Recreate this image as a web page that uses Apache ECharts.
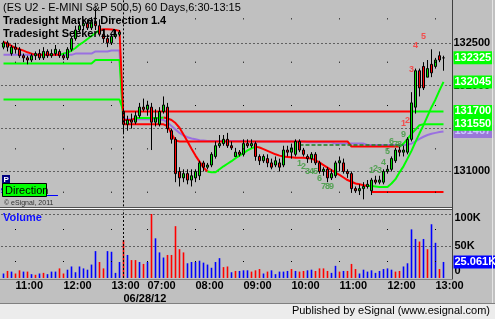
<!DOCTYPE html>
<html><head><meta charset="utf-8">
<script src="https://cdn.jsdelivr.net/npm/echarts@6/dist/echarts.min.js"></script>
<style>html,body{margin:0;padding:0;background:#c0c0c0}#c{width:495px;height:319px}</style>
</head><body><div id="c"></div>
<script>
// ---------- DATA ----------
const day1Start = [10, 45], day1Bars = 30;   // 06/27 session tail
const day2Start = [6, 30], day2Bars = 81;    // 06/28 session
const xTickIdx  = [3, 15, 27, 36, 48, 60, 72, 84, 96, 108];
const xTickText = ['11:00','12:00','13:00','07:00','08:00','09:00','10:00','11:00','12:00','13:00'];
const dateIdx = 30, dateText = '06/28/12';

// [open, close, low, high]
const day1Candles = [
 [1324.5,1325.0,1324.25,1325.25],[1325.0,1324.5,1324.0,1325.25],[1323.75,1324.5,1323.5,1324.75],[1324.5,1324.25,1323.75,1325.0],
 [1324.25,1323.5,1323.25,1324.5],[1323.5,1323.25,1322.75,1323.75],[1323.25,1323.0,1322.5,1323.5],[1323.0,1323.5,1322.75,1323.75],
 [1323.5,1323.75,1323.0,1324.0],[1323.75,1323.25,1323.0,1324.25],[1323.25,1324.0,1323.0,1324.5],[1324.0,1323.5,1323.25,1324.25],
 [1323.5,1323.75,1323.25,1324.25],[1323.75,1324.25,1323.5,1324.75],[1324.0,1323.5,1323.25,1324.25],[1323.5,1323.25,1323.0,1323.75],
 [1323.25,1324.25,1323.0,1324.5],[1324.25,1325.5,1324.0,1325.75],[1325.5,1326.5,1325.25,1327.0],[1326.5,1327.0,1326.25,1327.5],
 [1327.0,1327.25,1326.5,1327.75],[1327.25,1326.75,1326.5,1327.75],[1326.75,1327.5,1326.5,1328.0],[1327.5,1327.0,1326.5,1329.0],
 [1327.0,1326.0,1325.75,1327.75],[1326.0,1325.5,1325.0,1326.5],[1325.5,1325.0,1324.5,1326.0],[1325.0,1325.75,1324.75,1326.0],
 [1325.75,1326.0,1325.5,1326.5],[1326.0,1326.25,1325.75,1326.5]
];
const day2Candles = [
 [1317.0,1315.5,1314.5,1317.25],[1315.5,1316.0,1314.75,1316.5],[1316.0,1315.75,1315.0,1316.75],[1315.75,1316.5,1315.5,1317.0],
 [1316.5,1317.5,1316.25,1318.0],[1317.5,1317.25,1317.0,1318.5],[1317.25,1317.75,1316.5,1318.25],[1317.5,1315.75,1312.5,1318.0],
 [1315.75,1316.25,1315.25,1317.25],[1315.5,1317.0,1315.25,1317.5],[1317.0,1317.75,1316.75,1318.75],[1317.5,1315.0,1314.5,1318.0],
 [1314.75,1313.75,1313.25,1315.0],[1313.75,1309.75,1308.75,1314.0],[1310.0,1309.25,1308.25,1310.5],[1309.25,1309.75,1308.75,1310.25],
 [1309.75,1309.0,1308.5,1310.25],[1309.0,1309.5,1308.25,1310.25],[1309.25,1310.0,1308.75,1310.25],[1309.5,1311.0,1309.0,1311.25],
 [1311.0,1310.5,1310.0,1311.25],[1310.5,1310.75,1310.25,1311.0],[1310.75,1312.0,1310.5,1312.25],[1311.75,1313.0,1311.5,1313.5],
 [1313.0,1313.25,1312.75,1314.25],[1313.25,1313.75,1313.0,1314.25],[1313.75,1313.0,1312.75,1314.5],[1313.0,1312.75,1312.5,1313.5],
 [1311.75,1312.25,1311.75,1312.75],[1312.25,1312.0,1311.75,1312.5],[1312.0,1313.25,1311.75,1313.75],[1313.25,1313.0,1312.75,1313.75],
 [1313.0,1313.25,1312.75,1313.75],[1313.25,1311.75,1311.25,1313.5],[1311.75,1311.25,1310.75,1312.0],[1311.25,1311.75,1311.0,1312.0],
 [1311.5,1311.0,1310.5,1312.0],[1311.0,1310.5,1310.25,1311.5],[1310.75,1311.25,1310.5,1311.75],[1311.0,1310.5,1310.0,1311.5],
 [1310.75,1312.5,1310.5,1313.0],[1312.5,1312.25,1311.75,1313.0],[1312.25,1312.75,1311.5,1313.25],[1312.0,1313.5,1311.75,1313.75],
 [1313.5,1312.5,1312.25,1313.75],[1312.5,1312.0,1311.75,1312.75],[1311.75,1311.5,1311.0,1312.0],[1311.5,1312.0,1311.0,1312.25],
 [1312.0,1311.0,1310.75,1312.25],[1311.0,1310.0,1309.75,1311.25],[1310.0,1310.25,1309.5,1310.5],[1310.25,1309.25,1308.75,1310.5],
 [1309.25,1309.75,1309.0,1310.25],[1309.5,1311.0,1309.25,1311.25],[1311.0,1311.25,1310.0,1311.75],[1311.0,1310.0,1309.75,1311.5],
 [1310.0,1309.75,1309.25,1310.25],[1309.75,1308.0,1307.5,1310.0],[1308.0,1307.75,1307.5,1308.25],[1307.75,1308.0,1307.25,1308.5],
 [1308.0,1308.25,1306.75,1308.75],[1308.25,1308.5,1308.0,1309.0],[1307.75,1309.0,1307.25,1309.25],[1309.0,1308.75,1308.5,1309.5],
 [1308.75,1309.0,1308.5,1309.5],[1308.75,1310.0,1308.5,1310.25],[1310.0,1310.25,1309.75,1310.75],[1310.25,1311.5,1310.0,1311.75],
 [1311.25,1312.5,1311.0,1312.75],[1312.5,1312.25,1311.75,1313.0],[1312.25,1312.5,1311.75,1313.0],[1312.25,1313.75,1312.0,1314.0],
 [1313.75,1318.0,1313.5,1319.25],[1317.5,1321.75,1316.75,1322.0],[1321.75,1319.75,1318.75,1322.0],[1322.25,1319.75,1319.5,1322.75],
 [1321.0,1322.0,1321.0,1323.0],[1322.5,1321.5,1321.0,1324.25],[1322.25,1323.0,1322.0,1323.25],[1323.5,1323.0,1322.75,1324.0],
 [1323.25,1323.25,1321.75,1323.5]
];

// volume in thousands, and bar colour (b = up/blue, r = down/red)
const volume = [
 7,11,10,7,12,10,10,6,5,7, 8,6,10,10,15,7,13,18,9,18, 15,13,21,42,25,15,42,41,8,25,
 59,36,28,28,25,22,25,100,62,40, 32,36,36,81,45,40,23,25,25,27, 24,21,16,25,31,17,18,9,11,11,
 12,12,10,12,14,7,10,12,6,10, 10,11,14,11,10,11,12,13,11,15, 15,11,8,19,10,11,11,22,14,7,
 13,10,12,8,11,14,15,13,10,11, 18,23,76,61,57,61,45,84,55,14, 25.061
];
const volDir = 'brbrrbrbrb'+'rbbbrrbbbb'+'bbbbrrbbbb'+'rbrrbrbrbb'+'brrrrrbbbb'+'bbbbbrrbrb'+
               'bbrrrbrbbb'+'bbrbrrbbrr'+'rrbbrbrrrb'+'bbbbbbbbrr'+'bbbbrbrbbrb';

// indicator lines: runs of [count, value] or literal lists
const levelRuns   = [[30,1318.4],[81,1317.0]];
const levelColor  = [[30,'g'],[72,'r'],[9,'g']];
const seekerRuns  = [[23,1322.6],[7,1323.0],[11,1315.5],[1,1315.3],[1,1314.4],[1,1313.6],[43,1313.5],[13,1312.9],
                     [1,1313.25],[1,1313.8],[1,1314.4],[1,1314.9],[1,1315.4],[6,1315.5]];
const seekerColor = [[30,'g'],[69,'r'],[12,'g']];
const trail1 = [1325.1,1324.9,1324.65,1324.4,1324.25,1324.1,1323.9,1323.75,1323.6,1323.6,1323.6,1323.6,1323.6,1323.6,1323.6,
                1323.75,1323.85,1324.1,1324.4,1324.8,1325.1,1325.45,1325.8,1326.15,1326.5,1326.6,1326.6,1326.55,1326.5,1326.4];
const trail2 = [1316.0,1316.0,1316.0, 1316.25,1316.25,1316.25,1316.25,1316.25,1316.25,1316.25,
                1316.3,1316.2,1316.0,1315.65,1315.1,1314.3,1313.5,1312.65,1311.85,1311.15,1310.45,
                1310.0,1309.9,1309.9,1310.25,1310.6,1310.9,1311.2,1311.55,1311.85,1312.15,1312.45,1312.7,1312.9,
                1312.8,1312.6,1312.4,1312.2,1312.0,1311.85,1311.75,1311.7,1311.65,1311.6,1311.6,1311.6,1311.55,1311.5,
                1311.3,1311.05,1310.75,1310.45,1310.15,1309.85,1309.6,1309.3,1309.0,1308.8,1308.6,1308.5,1308.4,
                1308.3,1308.3,1308.25,1308.2,1308.2,1308.2,1308.6,1309.1,1309.9,1310.6,1311.5,1312.4,1313.45,1314.45,
                1315.4,1316.45,1317.5,1318.4,1319.45,1320.45];
const trailColor = [[14,'r'],[10,'g'],[6,'r'],[3,'r'],[7,'g'],[11,'r'],[12,'g'],[28,'r'],[20,'g']];
const avgRuns = [[18,1323.6],[5,1323.75],[4,1324.0],[3,1324.1],[10,1316.1],
                 [1,1316.0],[1,1315.7],[1,1315.3],[1,1314.9],[1,1314.5],[1,1314.2],[1,1314.0],[1,1313.85],[1,1313.75],[1,1313.65],[1,1313.6],
                 [10,1313.55],[15,1313.5],[7,1313.4],[8,1313.25],[11,1313.1],
                 [1,1313.25],[1,1313.5],[1,1313.8],[1,1314.05],[1,1314.25],[1,1314.4],[1,1314.5],[1,1314.6],[1,1314.67]];
const dashStart = 74, dashEnd = 100, dashLevel = 1313.1;
const lowStart = 92, lowEnd = 110, lowLevel = 1307.6;

// count labels [bar index, price, text]
const greenCounts = [[74,1310.96,'1'],[75,1310.58,'2'],[76,1310.03,'3'],[77,1310.03,'4'],[78,1310.03,'5'],[79,1309.15,'6'],
                     [80,1308.27,'7'],[81,1308.27,'8'],[82,1308.27,'9'],
                     [92,1310.1,'1'],[93,1310.4,'2'],[94,1310.1,'3'],[95,1311.1,'4'],[96,1312.35,'5'],[97,1313.5,'6'],
                     [98,1313.2,'7'],[99,1313.2,'8'],[100,1314.35,'9']];
const redCounts = [[100,1315.65,'1'],[101,1316.0,'2'],[102,1321.9,'3'],[103,1324.65,'4'],[105,1325.7,'5']];

// right-edge value tags [value, text, background, text colour]
const priceTags = [[1314.67,'131467','#9a78d8','#c8c8ff'],[1315.5,'131550','#00ff00','#ffffff'],[1317.0,'131700','#00ff00','#ffffff'],
                   [1320.45,'132045','#00ff00','#ffffff'],[1323.25,'132325','#00ff00','#ffffff']];
const volTag = [25.061,'25.061K','#0000ff','#ffffff'];

// ---------- BUILD ----------
const FN = '"Liberation Sans Narrow","Liberation Sans",Arial,sans-serif';
const pad = n => String(n).padStart(2,'0');
const cats = [];
function addSession(st, n, d){ let m = st[0]*60+st[1]; for(let k=0;k<n;k++){ cats.push(d+' '+pad(Math.floor(m/60))+':'+pad(m%60)); m+=5; } }
addSession(day1Start, day1Bars, '06/27'); addSession(day2Start, day2Bars, '06/28');
cats.push('pad1','pad2');
const xLab = {}; xTickIdx.forEach((i,k)=>xLab[i]=xTickText[k]); xLab[dateIdx]='\n'+dateText;

const expand = runs => runs.flatMap(([n,v]) => Array(n).fill(v));
const candles = day1Candles.concat(day2Candles);
const level = expand(levelRuns), seeker = expand(seekerRuns), trail = trail1.concat(trail2), avg = expand(avgRuns);
const COL = {r:'#ff0000', g:'#00ff00'};
function coloured(vals, colRuns, name){
  const cols = expand(colRuns);
  return ['r','g'].map(c => ({
    type:'line', name:name+c, xAxisIndex:0, yAxisIndex:0, showSymbol:false, symbol:'none', z:3, silent:true,
    lineStyle:{width:2, color:COL[c]},
    data: vals.map((v,k)=> (cols[k]===c || (k>0 && cols[k-1]===c)) ? v : null),
    connectNulls:false
  }));
}
const span = (a,b,v) => cats.map((_,k)=> (k>=a && k<=b) ? v : null);
const tickLines = xTickIdx.map(i => ({xAxis: cats[i]}));
const HIDE = {color:'rgba(0,0,0,0)', width:0};
const tagLabel = t => ({show:true, position:'end', distance:0, formatter:t[1], backgroundColor:t[2], color:t[3],
                        fontFamily:FN, fontWeight:'bold', fontSize:11, padding:[1,2,0,1], lineHeight:12});

// volume split by direction so each bar series carries one colour
const volUp = volume.map((v,k)=> volDir[k]==='b' ? v : null);
const volDn = volume.map((v,k)=> volDir[k]==='r' ? v : null);

const series = [
  {type:'candlestick', xAxisIndex:0, yAxisIndex:0, barWidth:3, z:4, silent:true, data:candles,
   itemStyle:{color:'#00e000', color0:'#ff0000', borderColor:'#000', borderColor0:'#000', borderWidth:1},
   markLine:{silent:true, symbol:'none', label:{show:false}, animation:false,
     data:[{xAxis:cats[dateIdx], lineStyle:{color:'#000', type:[2,2], width:1}}].concat(
       tickLines.map(t=>Object.assign({lineStyle:{color:'#000', width:1, type:[1,42.333], dashOffset:21.7}}, t)))}},
  {type:'line', xAxisIndex:0, yAxisIndex:0, showSymbol:false, z:3, silent:true, data:avg, lineStyle:{width:2, color:'#9a70e0'},
   markLine:{silent:true, symbol:'none', animation:false, z:8,
     data: priceTags.map(t=>({yAxis:t[0], lineStyle:HIDE, label:tagLabel(t)}))}},
  ...coloured(level, levelColor, 'level'),
  ...coloured(seeker, seekerColor, 'seeker'),
  ...coloured(trail, trailColor, 'trail'),
  {type:'line', xAxisIndex:0, yAxisIndex:0, showSymbol:false, z:3, silent:true, data:span(dashStart,dashEnd,dashLevel), lineStyle:{width:1.5, color:'#1f7f1f', type:[4,2]}},
  {type:'line', xAxisIndex:0, yAxisIndex:0, showSymbol:false, z:3, silent:true, data:span(lowStart,lowEnd,lowLevel), lineStyle:{width:2, color:'#ff0000'}},
  {type:'scatter', xAxisIndex:0, yAxisIndex:0, symbolSize:0, z:6, silent:true,
   data:greenCounts.map(d=>({value:[d[0],d[1]], label:{formatter:d[2]}})),
   label:{show:true, position:'inside', color:'#3a9a3a', fontFamily:'Arial,sans-serif', fontWeight:'bold', fontSize:9}},
  {type:'scatter', xAxisIndex:0, yAxisIndex:0, symbolSize:0, z:6, silent:true,
   data:redCounts.map(d=>({value:[d[0],d[1]], label:{formatter:d[2]}})),
   label:{show:true, position:'inside', color:'#ff3030', fontFamily:'Arial,sans-serif', fontWeight:'bold', fontSize:9}},
  {type:'bar', name:'volUp', xAxisIndex:1, yAxisIndex:1, silent:true, z:3, barWidth:1.6, barGap:'-100%', data:volUp,
   itemStyle:{color:'#0000ff'},
   markLine:{silent:true, symbol:'none', label:{show:false}, animation:false,
     data:[{xAxis:cats[dateIdx], lineStyle:{color:'#000', type:[2,2], width:1}}].concat(
       tickLines.map(t=>Object.assign({lineStyle:{color:'#000', width:1, type:[1,31], dashOffset:16}}, t)),
       [{yAxis:volTag[0], lineStyle:HIDE, label:tagLabel(volTag)}])}},
  {type:'bar', name:'volDn', xAxisIndex:1, yAxisIndex:1, silent:true, z:3, barWidth:1.6, barGap:'-100%', data:volDn,
   itemStyle:{color:'#ff0000'}}
];

const chart = echarts.init(document.getElementById('c'), null, {width:495, height:319});
chart.setOption({
  animation:false,
  backgroundColor:'#c0c0c0',
  grid:[{left:1.5, top:-2.3333, width:452, height:216.6667},{left:1.5, top:214, width:452, height:64}],
  xAxis:[
    {gridIndex:0, type:'category', data:cats, boundaryGap:true, axisLine:{show:false}, axisTick:{show:false}, axisLabel:{show:false}, splitLine:{show:false}},
    {gridIndex:1, type:'category', data:cats, boundaryGap:true, axisLine:{show:false}, axisTick:{show:false}, splitLine:{show:false},
     axisLabel:{show:true, interval:0, formatter:(v,i)=>xLab[i]||'', align:'left', verticalAlign:'top', margin:1,
                fontFamily:FN, fontWeight:'bold', fontSize:11, lineHeight:13.5, color:'#000'}}
  ],
  yAxis:[
    {gridIndex:0, type:'value', position:'right', min:1305, max:1330, interval:5,
     axisLine:{show:false}, axisTick:{show:false},
     axisLabel:{margin:0, formatter:v=>String(Math.round(v*100)), fontFamily:FN, fontWeight:'bold', fontSize:11, color:'#000', showMinLabel:false, showMaxLabel:false},
     splitLine:{show:true, showMinLine:false, showMaxLine:false, lineStyle:{type:[1,3], color:'#000', width:1}}},
    {gridIndex:1, type:'value', position:'right', min:0, max:100, interval:50,
     axisLine:{show:false}, axisTick:{show:false},
     axisLabel:{margin:1, fontFamily:FN, fontWeight:'bold', fontSize:11, color:'#000',
       formatter:v=> v===0 ? '{z|0}' : (v===100 ? '{t|100K}' : v+'K'),
       rich:{z:{padding:[0,0,14,0], fontFamily:FN, fontWeight:'bold', fontSize:11}, t:{padding:[8,0,0,0], fontFamily:FN, fontWeight:'bold', fontSize:11}}},
     splitLine:{show:true, showMinLine:false, lineStyle:{type:[1,3], color:'#000', width:1}}}
  ],
  series: series,
  graphic:[
    {type:'rect', shape:{x:0, y:303, width:495, height:16}, style:{fill:'#ececec'}, z:50},
    {type:'line', shape:{x1:0, y1:303.5, x2:495, y2:303.5}, style:{stroke:'#808080', lineWidth:1}, z:51},
    {type:'line', shape:{x1:492.5, y1:0, x2:492.5, y2:303}, style:{stroke:'#e4e4e4', lineWidth:1}, z:51},
    {type:'text', right:5, top:305, style:{text:'Published by eSignal (www.esignal.com)', font:'11px "Liberation Sans",Arial,sans-serif', fill:'#000'}, z:52},
    {type:'line', shape:{x1:0, y1:207.5, x2:453, y2:207.5}, style:{stroke:'#505050', lineWidth:1}, z:50},
    {type:'line', shape:{x1:0, y1:208.5, x2:453, y2:208.5}, style:{stroke:'#ffffff', lineWidth:1}, z:50},
    {type:'line', shape:{x1:0, y1:209.5, x2:453, y2:209.5}, style:{stroke:'#505050', lineWidth:1}, z:50},
    {type:'line', shape:{x1:452.5, y1:0, x2:452.5, y2:279}, style:{stroke:'#404040', lineWidth:1}, z:50},
    {type:'line', shape:{x1:0, y1:279.5, x2:453, y2:279.5}, style:{stroke:'#808080', lineWidth:1}, z:50},
    {type:'text', left:3, top:2, style:{text:'(ES U2 - E-MINI S&P 500,5) 60 Days,6:30-13:15', font:'11px "Liberation Sans",Arial,sans-serif', fill:'#000'}, z:60},
    {type:'text', left:3, top:15, style:{text:'Tradesight Market Direction 1.4', font:'bold 11px "Liberation Sans",Arial,sans-serif', fill:'#000'}, z:60},
    {type:'text', left:3, top:28, style:{text:'Tradesight Seeker 1.4', font:'bold 11px "Liberation Sans",Arial,sans-serif', fill:'#000'}, z:60},
    {type:'text', left:3, top:212, style:{text:'Volume', font:'bold 11px "Liberation Sans",Arial,sans-serif', fill:'#1010ff'}, z:60},
    {type:'text', left:-20, top:186, style:{text:'tradesight.com', font:'9px "Liberation Sans",Arial,sans-serif', fill:'#0000ff'}, z:59},
    {type:'line', shape:{x1:46, y1:195.5, x2:58, y2:195.5}, style:{stroke:'#0000ff', lineWidth:1}, z:59},
    {type:'rect', shape:{x:2, y:175, width:8, height:9}, style:{fill:'#000080'}, z:60},
    {type:'text', left:3.5, top:175.5, style:{text:'P', font:'bold 8px "Liberation Sans",Arial,sans-serif', fill:'#ffffff'}, z:61},
    {type:'rect', shape:{x:2.5, y:183.5, width:44, height:13}, style:{fill:'#00ff00', stroke:'#000', lineWidth:1}, z:60},
    {type:'text', left:5, top:185, style:{text:'Direction', font:'11px "Liberation Sans",Arial,sans-serif', fill:'#000'}, z:61},
    {type:'text', left:4, top:200, style:{text:'\u00a9 eSignal, 2011', font:'7px "Liberation Sans",Arial,sans-serif', fill:'#303030'}, z:60}
  ]
});
</script></body></html>
